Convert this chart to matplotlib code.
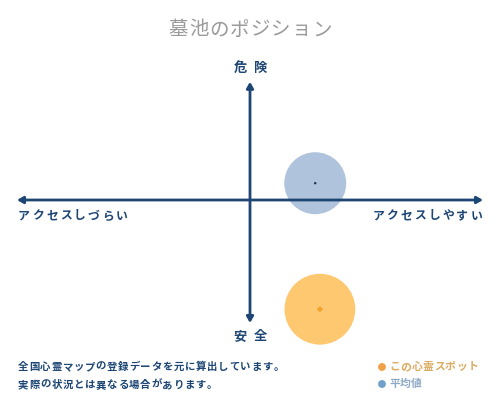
import numpy as np
import matplotlib.pyplot as plt

plt.rcParams['font.family'] = ['Noto Sans CJK JP', 'DejaVu Sans']

# position data (x: access, y: danger), range -1..1
labels = ['この心霊スポット', '平均値']
access = [0.30, 0.28]
danger = [-0.91, 0.14]

title = '墓池のポジション'
top_label = '危険'
bottom_label = '安全'
left_label = 'アクセスしづらい'
right_label = 'アクセスしやすい'
notes = ['全国心霊マップの登録データを元に算出しています。',
         '実際の状況とは異なる場合があります。']

navy = '#1d4674'
fill_colors = ['#fec870', '#afc3dc']
center_colors = ['#f4a22a', '#1d2e45']
center_sizes = [10, 3]
sizes = [2600, 1990]
legend_dot = ['#f0a046', '#72a0c8']
legend_text = ['#dcab62', '#8ea9c6']

fig = plt.figure(figsize=(5, 4), dpi=100)

# overlay in pixel coords for text
over = fig.add_axes([0, 0, 1, 1])
over.set_xlim(0, 500)
over.set_ylim(400, 0)
over.axis('off')


def spaced(x, y, s, pitch, ha='left', **kw):
    # place characters one by one with a fixed pitch (letter spacing)
    n = len(s)
    if ha == 'center':
        x0 = x - pitch * (n - 1) / 2
    elif ha == 'right':
        x0 = x - pitch * (n - 1)
    else:
        x0 = x
    for i, ch in enumerate(s):
        over.text(x0 + i * pitch, y, ch, ha=ha, va='center', **kw)


# chart area
ax = fig.add_axes([17 / 500, 0.2, 466 / 500, 0.6])
ax.set_xlim(-1, 1)
ax.set_ylim(-1, 1)
ax.axis('off')

for i in range(len(labels)):
    ax.scatter(access[i], danger[i], s=sizes[i], color=fill_colors[i],
               edgecolors='none', zorder=2, clip_on=False)
    ax.scatter(access[i], danger[i], s=center_sizes[i], color=center_colors[i],
               marker='D' if i == 0 else 'o', edgecolors='none', zorder=4,
               clip_on=False)

arrow = dict(arrowstyle='<|-|>,head_length=0.35,head_width=0.2',
             color=navy, lw=2, shrinkA=0, shrinkB=0)
ax.annotate('', xy=(1, 0), xytext=(-1, 0), arrowprops=arrow,
            annotation_clip=False, zorder=3)
ax.annotate('', xy=(0, 0.985), xytext=(0, -1.025), arrowprops=arrow,
            annotation_clip=False, zorder=3)

# texts
spaced(250, 30, title, 20.5, ha='center', fontsize=14, color='#9a9a9a')
spaced(250, 68, top_label, 20, ha='center', fontsize=9.5,
       fontweight='bold', color=navy)
spaced(250, 336, bottom_label, 20, ha='center', fontsize=9.5,
       fontweight='bold', color=navy)
spaced(18, 216, left_label, 14, fontsize=8.5, fontweight='bold', color=navy)
spaced(482, 216, right_label, 14, ha='right', fontsize=8.5,
       fontweight='bold', color=navy)
spaced(18, 367, notes[0], 11.1, fontsize=7.5, fontweight='bold', color=navy)
spaced(18, 385, notes[1], 11.1, fontsize=7.5, fontweight='bold', color=navy)

for i, yy in enumerate([367, 384]):
    over.scatter(382, yy, s=32, color=legend_dot[i], edgecolors='none')
    spaced(389, yy, labels[i], 11.2, fontsize=7.8, fontweight='bold',
           color=legend_text[i])

fig.savefig('out.png', dpi=100)
